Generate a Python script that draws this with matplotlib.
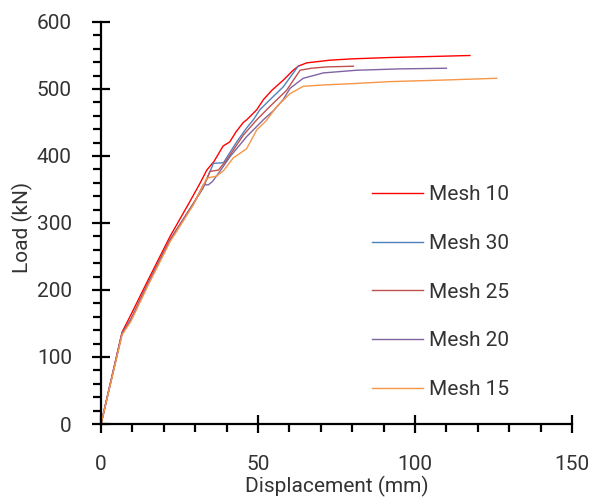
import matplotlib
matplotlib.use("Agg")
import matplotlib.pyplot as plt
from matplotlib.ticker import MultipleLocator

plt.rcParams['font.family'] = ['Roboto', 'DejaVu Sans']

series_names = ["Mesh 10", "Mesh 30", "Mesh 25", "Mesh 20", "Mesh 15"]
colors = ["#FF0000", "#4F81BD", "#C0504D", "#8064A2", "#F79646"]

mesh10_x = [0, 6.7, 9.2, 15, 22, 28.3, 31.5, 33.7, 36, 38.9, 41, 43, 45.3, 46.4, 49.6, 51.7, 54.4, 58, 61.2, 62.8, 65.5, 72.9, 80, 92, 105, 117.5]
mesh10_y = [0, 137, 160, 215, 280, 332, 359, 379, 392, 415, 421, 436, 450, 454, 469, 484, 498, 513, 528, 534, 539, 543, 545, 547, 548.5, 550]

mesh30_x = [0, 6.7, 9.5, 15, 22, 29.4, 32.5, 35.8, 39, 43.2, 46.4, 48.5, 50.6, 53.8, 58, 62.8]
mesh30_y = [0, 135, 156, 210, 275, 329, 352, 389, 390, 421, 442, 454, 469, 484, 503, 534]

mesh25_x = [0, 6.7, 9.5, 15, 22, 29.4, 32.5, 34.7, 37.4, 40, 45.3, 49.6, 53.8, 59.1, 63.4, 67, 72, 80.4]
mesh25_y = [0, 135, 156, 210, 275, 329, 353, 377, 379, 394, 431, 454, 474, 498, 528, 531, 533, 534]

mesh20_x = [0, 6.7, 9.5, 15, 22, 29.4, 32.6, 34.2, 35.5, 37.4, 41.1, 46.4, 51.7, 55, 58, 60.2, 64.4, 70.8, 81.4, 95, 110]
mesh20_y = [0, 135, 155, 209, 274, 328, 357, 357, 362, 374, 399, 429, 454, 468, 484, 501, 516, 524, 528, 530, 531]

mesh15_x = [0, 6.7, 9.5, 15, 22, 29.4, 33.7, 36.8, 39, 42.1, 46.4, 49.6, 52.5, 56, 60.2, 64.4, 70.8, 80, 92, 110, 126]
mesh15_y = [0, 133, 153, 207, 272, 327, 367, 370, 378, 397, 411, 439, 452, 474, 493, 504, 506, 508, 511, 513.5, 516]

xs = [mesh10_x, mesh30_x, mesh25_x, mesh20_x, mesh15_x]
ys = [mesh10_y, mesh30_y, mesh25_y, mesh20_y, mesh15_y]

fig = plt.figure(figsize=(5.97, 4.99), dpi=100)
ax = fig.add_axes([101/597, 1 - 424/499, 471/597, 402/499])

for name, c, x, y in zip(series_names, colors, xs, ys):
    ax.plot(x, y, color=c, lw=1.0, label=name)

ax.set_xlim(0, 150)
ax.set_ylim(0, 600)
ax.xaxis.set_major_locator(MultipleLocator(50))
ax.xaxis.set_minor_locator(MultipleLocator(10))
ax.yaxis.set_major_locator(MultipleLocator(100))
ax.yaxis.set_minor_locator(MultipleLocator(20))

for s in ['top', 'right']:
    ax.spines[s].set_visible(False)
for s in ['left', 'bottom']:
    ax.spines[s].set_linewidth(1.6)
    ax.spines[s].set_color('black')

txtc = '#333333'
ax.tick_params(which='major', direction='inout', length=13, width=1.6, labelsize=15, labelcolor=txtc)
ax.tick_params(axis='x', which='major', pad=16)
ax.tick_params(axis='y', which='major', pad=14.5)
ax.tick_params(which='minor', direction='out', length=6, width=1.6)

ax.set_xlabel("Displacement (mm)", fontsize=15, color=txtc, labelpad=1)
ax.set_ylabel("Load (kN)", fontsize=15, color=txtc)
ax.yaxis.set_label_coords(-0.145, 0.49)

leg = ax.legend(loc='upper left', bbox_to_anchor=(0.535, 0.64), frameon=False,
                fontsize=15, labelspacing=1.42, handlelength=2.45, handletextpad=0.3,
                labelcolor=txtc)

fig.savefig("out.png", dpi=100)
